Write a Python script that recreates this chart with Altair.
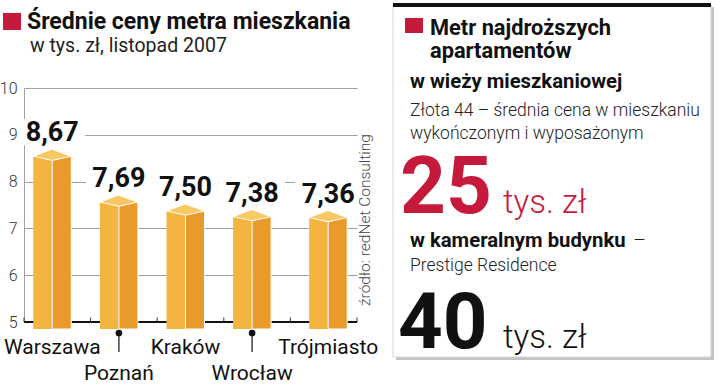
import altair as alt
import pandas as pd

# ---------------- data ----------------
cities = ["Warszawa", "Poznań", "Kraków", "Wrocław", "Trójmiasto"]
prices = [8.67, 7.69, 7.50, 7.38, 7.36]
y_ticks = [5, 6, 7, 8, 9, 10]

title = "Średnie ceny metra mieszkania"
subtitle = "w tys. zł, listopad 2007"
source = "źródło: redNet Consulting"
panel_title = ["Metr najdroższych", "apartamentów"]
tower_head = "w wieży mieszkaniowej"
tower_desc = ["Złota 44 – średnia cena w mieszkaniu", "wykończonym i wyposażonym"]
tower_value = "25"
unit = "tys. zł"
small_head = "w kameralnym budynku"
small_dash = "–"
small_desc = "Prestige Residence"
small_value = "40"

df = pd.DataFrame({"city": cities, "price": prices, "idx": list(range(len(cities)))})
bounds = pd.DataFrame({"b": list(range(len(cities) + 1))})

# ---------------- style ----------------
FONT = "Roboto"
W, H = 333, 234
PX_X = W / 5
PX_Y = H / 5
BW = 19 / PX_X
FRONT, SIDE, TOPC = "#F3B440", "#E99A2A", "#F8C862"
RED = "#C51A3C"

xs = alt.Scale(domain=[0, 5], nice=False, zero=False)
ys = alt.Scale(domain=[5, 10], nice=False, zero=False)
yaxis = alt.Axis(values=y_ticks, title=None, grid=True, gridColor="#a0a0a0", gridWidth=1,
                 domainColor="#a0a0a0", ticks=False, labelPadding=7, labelFont=FONT,
                 labelFontSize=16, labelFontWeight=300, labelColor="#333")


def X(f):
    return alt.X(f, type="quantitative", scale=xs, axis=None)


def Y(f):
    return alt.Y(f, type="quantitative", scale=ys, axis=yaxis)


base = alt.Chart(df).transform_calculate(
    cx=f"datum.idx + 0.5 + (datum.city === 'Trójmiasto' ? {4.5 / PX_X} : {-5 / PX_X})",
    top=f"datum.price - {6 / PX_Y}",
    bottom=f"{5 - 7 / PX_Y}",
    fl=f"datum.cx - {BW}",
    fr=f"datum.cx + {BW}",
    lbl="replace(format(datum.price, '.2f'), '.', ',')",
)

one = alt.Data(values=[{}])


def rect(x1, y1, x2, y2, **kw):
    return alt.Chart(one).mark_rect(**kw).encode(
        x=alt.value(x1 - 24), x2=alt.value(x2 - 24), y=alt.value(y1 - 88), y2=alt.value(y2 - 88))


def txt(s, x, y, size, weight=400, color="#111", **kw):
    opts = dict(text=s, align="left", baseline="alphabetic", font=FONT, fontSize=size,
                fontWeight=weight, color=color)
    opts.update(kw)
    return alt.Chart(one).mark_text(**opts).encode(x=alt.value(x - 24), y=alt.value(y - 88))


halo = base.mark_point(shape="M-1,-0.4L1,-0.4L1,0.4L-1,0.4Z", size=66 ** 2, filled=True,
                       fill="white", opacity=1, strokeWidth=0, yOffset=-18).encode(
    x=X("cx"), y=Y("price"))

baseline = alt.Chart(one).mark_rule(color="#111", strokeWidth=2.2).encode(
    x=alt.value(0), x2=alt.value(W), y=alt.value(H))

ticks = alt.Chart(bounds).transform_calculate(
    y0="5", y1=f"{5 + 4.5 / PX_Y}").mark_rule(color="#333", strokeWidth=1).encode(
    x=X("b"), y=Y("y0"), y2="y1")

front = base.mark_rect(color=FRONT).encode(x=X("fl"), x2="cx", y=Y("top"), y2="bottom")
side = base.mark_rect(color=SIDE, stroke="white", strokeWidth=1).encode(
    x=X("cx"), x2="fr", y=Y("top"), y2="bottom")
topface = base.mark_point(shape="M-1,0L-0.02,-0.37L1,0L0,0.22Z", size=38 ** 2, filled=True,
                          fill=TOPC, stroke="white", strokeWidth=1, opacity=1,
                          strokeOpacity=1).encode(x=X("cx"), y=Y("top"))

labels = base.mark_text(font=FONT, fontSize=27, fontWeight="bold", color="#111", dy=-9,
                        baseline="alphabetic").encode(x=X("cx"), y=Y("price"), text="lbl:N")

xl0 = base.transform_filter("datum.idx % 2 == 0").mark_text(
    font=FONT, fontSize=21, color="#111", baseline="alphabetic").encode(
    x=X("cx"), y=alt.value(354 - 88), text="city:N")
xl1 = base.transform_filter("datum.idx % 2 == 1").mark_text(
    font=FONT, fontSize=21, color="#111", baseline="alphabetic").encode(
    x=X("cx"), y=alt.value(380 - 88), text="city:N")
pins = base.transform_filter("datum.idx % 2 == 1").mark_rule(color="#222", strokeWidth=1.3).encode(
    x=X("cx"), y=alt.value(333 - 88), y2=alt.value(352 - 88))
dots = base.transform_filter("datum.idx % 2 == 1").mark_point(
    filled=True, size=45, color="#111", opacity=1).encode(x=X("cx"), y=alt.value(333 - 88))

src = alt.Chart(one).mark_text(text=source, angle=270, align="center", baseline="middle",
                               font=FONT, fontSize=15.5, fontWeight=300, color="#444").encode(
    x=alt.value(365 - 24), y=alt.value(220 - 88))

decor = [
    rect(3, 13, 21, 30, color=RED),
    txt(title, 27, 29, 23, "bold"),
    txt(subtitle, 30, 52, 19.5, 400, "#222"),
    rect(396, 7, 714, 360, color="#c4c4c4"),
    rect(393, 4, 711, 357, fill="white", stroke="#d4d4d4", strokeWidth=1),
    rect(393, 3, 711, 7, color="#111"),
    rect(405, 18, 423, 33, color=RED),
    txt(panel_title[0], 430, 35, 21.8, "bold"),
    txt(panel_title[1], 430, 58, 21.8, "bold"),
    txt(tower_head, 410, 88, 20.3, "bold"),
    txt(tower_desc[0], 410, 116, 17.5, 300, "#222"),
    txt(tower_desc[1], 410, 139, 17.5, 300, "#222"),
    txt(tower_value, 400, 213, 80, "bold", RED),
    txt(unit, 503, 213, 33, 300, RED),
    txt(small_head, 410, 247, 20.3, "bold"),
    txt(small_dash, 633, 247, 20, 300, "#222"),
    txt(small_desc, 410, 271, 17.5, 300, "#222"),
    txt(small_value, 398, 348, 78, "bold", "#111"),
    txt(unit, 503, 348, 33, 300, "#111"),
]

chart = alt.layer(
    halo, baseline, ticks, front, side, topface, labels, xl0, xl1, pins, dots, src, *decor
).properties(
    width=W, height=H,
    autosize=alt.AutoSizeParams(type="none"),
    padding={"left": 24, "top": 88, "right": 720 - 24 - W, "bottom": 385 - 88 - H},
    background="white",
).configure_view(stroke=None)

chart.save("out.html", embed_options={"renderer": "svg", "actions": False})
